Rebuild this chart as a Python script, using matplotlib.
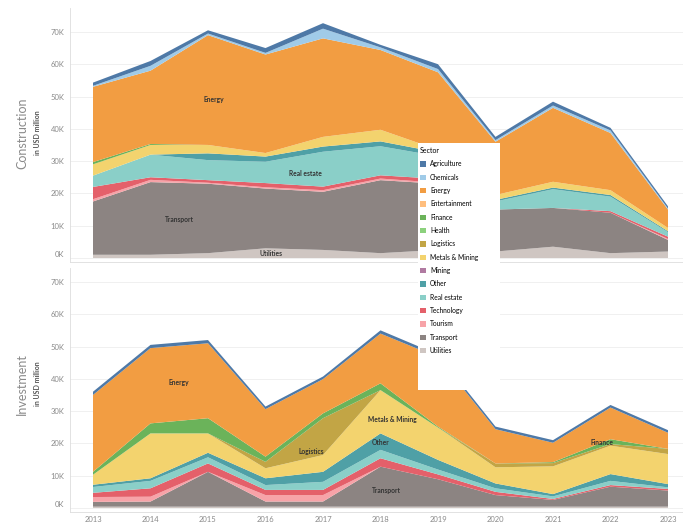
import matplotlib

matplotlib.use("Agg")
import matplotlib.pyplot as plt  # noqa: E402
from matplotlib.patches import Patch, Rectangle  # noqa: E402

plt.rcParams["font.family"] = ["Lato", "DejaVu Sans"]

years = [2013, 2014, 2015, 2016, 2017, 2018, 2019, 2020, 2021, 2022, 2023]

# legend order (top of stack first)
sectors = ["Agriculture", "Chemicals", "Energy", "Entertainment", "Finance",
           "Health", "Logistics", "Metals & Mining", "Mining", "Other",
           "Real estate", "Technology", "Tourism", "Transport", "Utilities"]
colors = ["#4E79A7", "#A0CBE8", "#F29D42", "#FFBE7D", "#6BB35A",
          "#8CD17D", "#C2A545", "#F3D36E", "#B07AA1", "#4FA0A6",
          "#8ACFC8", "#E4606A", "#F7A3A8", "#8C8482", "#CFC6C2"]

# Construction, USD million (thousands on axis)
c_agriculture = [1.0, 1.5, 1.0, 1.5, 1.7, 0.8, 1.5, 1.0, 1.2, 0.8, 0.7]
c_chemicals = [0.3, 1.5, 0.5, 0.5, 3.0, 0.8, 1.0, 0.5, 0.7, 0.8, 0.3]
c_energy = [23.3, 22.7, 34.0, 30.5, 30.5, 24.7, 24.0, 16.5, 22.9, 17.7, 5.7]
c_entertainment = [0, 0, 0, 0, 0, 0, 0, 0, 0, 0, 0]
c_finance = [0.7, 0.3, 0, 0, 0, 0, 0, 0, 0, 0, 0]
c_health = [0, 0, 0, 0, 0, 0, 0, 0, 0, 0, 0]
c_logistics = [0, 0, 0, 0, 0, 0, 0, 0, 0, 0, 0]
c_metals = [3.5, 3.0, 2.6, 1.1, 3.0, 3.6, 0.8, 1.5, 1.8, 1.5, 1.0]
c_mining = [0, 0, 0, 0, 0, 0, 0, 0, 0, 0, 0]
c_other = [0, 0, 2.1, 1.6, 1.6, 1.5, 1.2, 0.5, 0.5, 0.5, 0.3]
c_real_estate = [3.5, 7.0, 6.2, 6.6, 10.8, 9.0, 7.0, 2.5, 5.8, 4.5, 1.4]
c_technology = [3.8, 0.8, 0.8, 1.3, 1.1, 1.0, 1.2, 0, 0, 0.5, 0.7]
c_tourism = [0.7, 0.7, 0.3, 0.4, 0.5, 0.5, 0.3, 0, 0, 0, 0.3]
c_transport = [16.5, 22.5, 21.5, 18.5, 18.0, 22.6, 20.5, 13.0, 12.0, 12.5, 3.6]
c_utilities = [1.0, 1.0, 1.5, 3.0, 2.5, 1.5, 2.5, 2.0, 3.5, 1.5, 2.0]

# Investment, USD million
i_agriculture = [1.0, 1.0, 1.0, 0.8, 0.8, 1.0, 0.8, 0.8, 0.8, 0.8, 0.8]
i_chemicals = [0, 0, 0, 0, 0, 0, 0, 0, 0, 0, 0]
i_energy = [23.8, 23.3, 23.2, 14.7, 10.6, 15.4, 21.5, 10.6, 6.0, 9.8, 5.0]
i_entertainment = [0, 0, 0, 0, 0, 0, 0, 0, 0, 0, 0]
i_finance = [0.9, 3.1, 4.7, 1.6, 1.5, 2.1, 0.3, 0, 0.3, 1.5, 0]
i_health = [0, 0, 0, 0, 0, 0, 0, 0, 0, 0, 0]
i_logistics = [0, 0, 0, 2.0, 11.4, 0, 0, 1.2, 1.0, 0.5, 1.6]
i_metals = [3.1, 13.9, 6.0, 3.1, 5.2, 13.4, 10.0, 5.0, 8.6, 8.8, 9.3]
i_mining = [0, 0, 0, 0, 0, 0, 0, 0, 0, 0, 0]
i_other = [0.7, 0.8, 1.4, 2.1, 3.1, 5.1, 3.0, 1.5, 0.7, 2.1, 1.0]
i_real_estate = [1.8, 2.3, 1.9, 1.5, 2.5, 2.6, 1.5, 1.1, 0.8, 1.3, 0.5]
i_technology = [1.3, 2.6, 2.6, 1.6, 1.6, 2.6, 1.5, 1.0, 0.3, 0.5, 0.5]
i_tourism = [1.5, 1.5, 0, 2.0, 2.0, 0, 0, 0, 0, 0, 0]
i_transport = [1.5, 1.6, 10.8, 1.6, 1.6, 12.4, 8.5, 3.6, 2.1, 6.2, 5.0]
i_utilities = [0.4, 0.4, 0.4, 0.4, 0.4, 0.4, 0.4, 0.4, 0.4, 0.4, 0.4]

construction = [c_agriculture, c_chemicals, c_energy, c_entertainment, c_finance,
                c_health, c_logistics, c_metals, c_mining, c_other,
                c_real_estate, c_technology, c_tourism, c_transport, c_utilities]
investment = [i_agriculture, i_chemicals, i_energy, i_entertainment, i_finance,
              i_health, i_logistics, i_metals, i_mining, i_other,
              i_real_estate, i_technology, i_tourism, i_transport, i_utilities]

W, H = 683, 527
PX_PER_K = 3.23
fig = plt.figure(figsize=(W / 100, H / 100), dpi=100)


def make_axes(top, bottom, base):
    ax = fig.add_axes([70 / W, 1 - bottom / H, (W - 70) / W, (bottom - top) / H])
    ax.set_ylim(-(bottom - base) / PX_PER_K, (base - top) / PX_PER_K)
    ax.set_xlim(2013 - 23 / 57.5, 2023 + 15 / 57.5)
    return ax


ax1 = make_axes(8, 262, 258)
ax2 = make_axes(268, 512, 508)

for ax, data in [(ax1, construction), (ax2, investment)]:
    ax.stackplot(years, *data[::-1], colors=colors[::-1], linewidth=0)
    ax.set_yticks(range(0, 80, 10))
    ax.set_yticklabels([f"{v}K" for v in range(0, 80, 10)])
    ax.get_yticklabels()[0].set_verticalalignment("bottom")
    ax.grid(axis="y", color="#EEEEEE", linewidth=0.6)
    ax.set_axisbelow(True)
    ax.tick_params(axis="y", length=0, labelsize=5.5, labelcolor="#8A8A8A", pad=4)
    ax.tick_params(axis="x", length=0, labelsize=5.5, labelcolor="#8A8A8A", pad=3)
    for s in ["top", "right"]:
        ax.spines[s].set_visible(False)
    ax.spines["left"].set_color("#DDDDDD")
    ax.spines["bottom"].set_color("#DDDDDD")
    ax.spines["left"].set_linewidth(0.6)
    ax.spines["bottom"].set_linewidth(0.6)

ax1.set_xticks(years)
ax1.set_xticklabels([])
ax2.set_xticks(years)
ax2.set_xticklabels([str(y) for y in years])

lbl = dict(fontsize=4.8, color="#333333", ha="center", va="center", fontweight="bold")
ax1.text(2015.1, 49, "Energy", **lbl)
ax1.text(2016.7, 26.3, "Real estate", **lbl)
ax1.text(2014.5, 12, "Transport", **lbl)
ax1.text(2016.1, 1.5, "Utilities", **lbl)
ax2.text(2014.5, 39, "Energy", **lbl)
ax2.text(2016.8, 17.5, "Logistics", **lbl)
ax2.text(2018.2, 27.3, "Metals & Mining", **lbl)
ax2.text(2018.0, 20.3, "Other", **lbl)
ax2.text(2018.1, 5.5, "Transport", **lbl)
ax2.text(2021.85, 20.2, "Finance", **lbl)

# axis titles
fig.text(22 / W, 1 - 133 / H, "Construction", rotation=90, fontsize=9,
         color="#8A8A8A", ha="center", va="center")
fig.text(37 / W, 1 - 133 / H, "in USD million", rotation=90, fontsize=5,
         color="#555555", fontweight="bold", ha="center", va="center")
fig.text(22 / W, 1 - 384 / H, "Investment", rotation=90, fontsize=9,
         color="#8A8A8A", ha="center", va="center")
fig.text(37 / W, 1 - 384 / H, "in USD million", rotation=90, fontsize=5,
         color="#555555", fontweight="bold", ha="center", va="center")

# legend card
fig.add_artist(Rectangle((418 / W, 1 - 390 / H), 82 / W, 247 / H,
                         transform=fig.transFigure, facecolor="white",
                         edgecolor="none", zorder=4))
handles = [Patch(facecolor=c, edgecolor="none") for c in colors]
fig.legend(handles, sectors, loc="upper left",
           bbox_to_anchor=(416 / W, 1 - 143 / H), title="Sector",
           fontsize=4.8, title_fontsize=5, frameon=False, handlelength=0.9,
           handleheight=0.9, labelspacing=0.95, handletextpad=0.6,
           alignment="left", borderaxespad=0.2)

plt.savefig("out.png", dpi=100)
